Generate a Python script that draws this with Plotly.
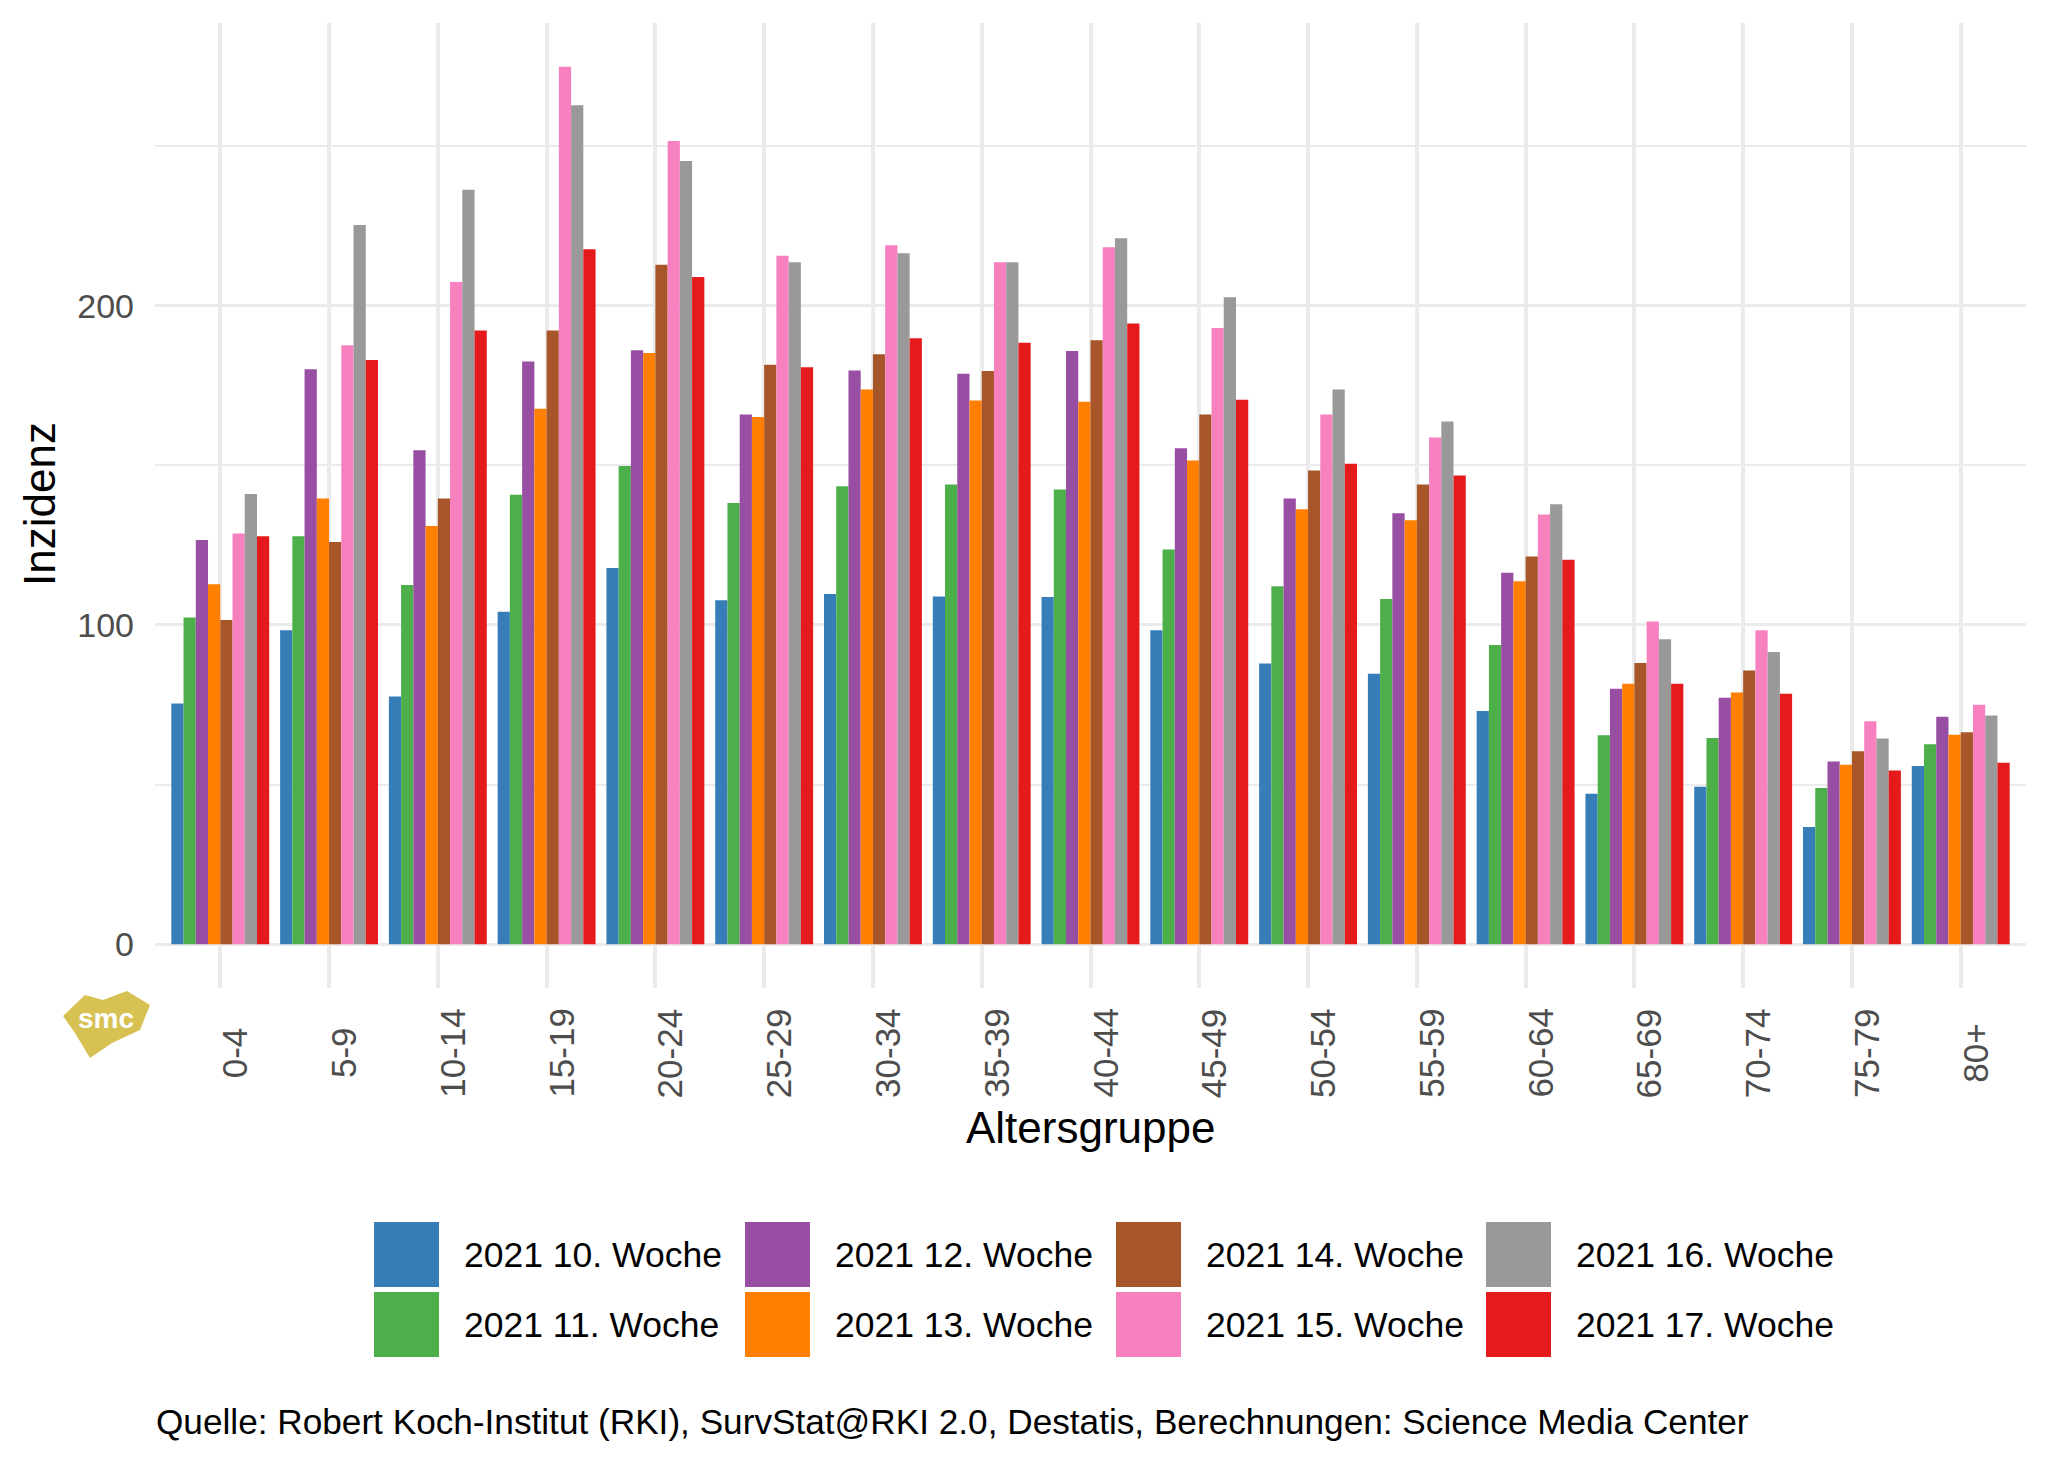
import plotly.graph_objects as go

W, H = 2048, 1462
# plot panel in pixels
PL, PR, PT, PB = 147, 2018, 15, 980
DX, DY = -8, -8  # offset applied to decoration pixel positions

age_groups = ["0-4", "5-9", "10-14", "15-19", "20-24", "25-29", "30-34", "35-39",
              "40-44", "45-49", "50-54", "55-59", "60-64", "65-69", "70-74", "75-79", "80+"]

week_names = ["2021 10. Woche", "2021 11. Woche", "2021 12. Woche", "2021 13. Woche",
              "2021 14. Woche", "2021 15. Woche", "2021 16. Woche", "2021 17. Woche"]

week10 = [75.4, 98.3, 77.6, 104.1, 117.8, 107.7, 109.7, 108.9, 108.7, 98.3, 87.9, 84.7, 73.0, 47.1, 49.3, 36.7, 55.8]
week11 = [102.3, 127.8, 112.5, 140.8, 149.8, 138.2, 143.4, 144.0, 142.4, 123.6, 112.1, 108.1, 93.7, 65.4, 64.6, 48.9, 62.6]
week12 = [126.6, 180.1, 154.7, 182.5, 186.0, 165.9, 179.7, 178.7, 185.8, 155.3, 139.6, 135.0, 116.3, 80.0, 77.2, 57.2, 71.2]
week13 = [112.7, 139.6, 131.0, 167.7, 185.2, 165.1, 173.7, 170.3, 169.9, 151.5, 136.2, 132.8, 113.7, 81.6, 78.8, 56.2, 65.6]
week14 = [101.5, 126.0, 139.6, 192.2, 212.8, 181.5, 184.8, 179.5, 189.2, 165.9, 148.4, 144.0, 121.4, 88.1, 85.7, 60.4, 66.4]
week15 = [128.6, 187.6, 207.4, 274.8, 251.6, 215.6, 218.9, 213.6, 218.3, 193.0, 165.9, 158.7, 134.6, 101.1, 98.3, 69.8, 75.0]
week16 = [141.0, 225.3, 236.3, 262.8, 245.3, 213.6, 216.4, 213.6, 221.1, 202.6, 173.7, 163.7, 137.8, 95.5, 91.5, 64.4, 71.6]
week17 = [127.8, 183.0, 192.2, 217.7, 209.0, 180.7, 189.8, 188.4, 194.4, 170.5, 150.5, 146.8, 120.4, 81.6, 78.4, 54.4, 56.8]

y_tick_vals = [0, 100, 200]
y_tick_text = ["0", "100", "200"]

colors = ["#377EB8", "#4DAF4A", "#984EA3", "#FF7F00", "#A65628", "#F781BF", "#999999", "#E41A1C"]
series = [week10, week11, week12, week13, week14, week15, week16, week17]

caption = "Quelle: Robert Koch-Institut (RKI), SurvStat@RKI 2.0, Destatis, Berechnungen: Science Media Center"

FONT = "Liberation Sans, Arial, Helvetica, sans-serif"


def px(x):
    return (x + DX - PL) / (PR - PL)


def py(y):
    return (PB - (y + DY)) / (PB - PT)


fig = go.Figure()
for name, vals, col in zip(week_names, series, colors):
    fig.add_trace(go.Bar(x=age_groups, y=vals, name=name, marker_color=col,
                         marker_line_width=0, showlegend=False))

ymax = max(max(s) for s in series)
pad = 0.05 * ymax

fig.update_layout(
    width=W, height=H,
    margin=dict(l=PL, r=W - PR, t=PT, b=H - PB),
    paper_bgcolor="white", plot_bgcolor="white",
    barmode="group", bargap=0.1, bargroupgap=0,
    font=dict(family=FONT, color="black"),
    xaxis=dict(
        type="category", range=[-0.6, len(age_groups) - 0.4],
        showgrid=True, gridcolor="#EBEBEB", gridwidth=4,
        showticklabels=False, ticks="", zeroline=False, showline=False,
    ),
    yaxis=dict(
        range=[-pad, ymax + pad],
        tickvals=y_tick_vals, ticktext=y_tick_text,
        showgrid=True, gridcolor="#EBEBEB", gridwidth=3,
        minor=dict(dtick=50, tick0=0, showgrid=True, gridcolor="#EBEBEB", gridwidth=1.5),
        tickfont=dict(size=34, color="#4D4D4D", family=FONT),
        ticks="", ticklabelstandoff=20, zeroline=False, showline=False,
    ),
)

# x tick labels (rotated, centred)
for cat in age_groups:
    fig.add_annotation(x=cat, xref="x", y=py(1053), yref="paper", text=cat,
                       textangle=-90, showarrow=False, xanchor="center", yanchor="middle",
                       xshift=14, font=dict(size=35, color="#4D4D4D", family=FONT))

# axis titles
fig.add_annotation(x=px(39), y=py(504), xref="paper", yref="paper", text="Inzidenz",
                   textangle=-90, showarrow=False, xanchor="center", yanchor="middle",
                   font=dict(size=44, color="black", family=FONT))
fig.add_annotation(x=0.5, y=py(1127), xref="paper", yref="paper", text="Altersgruppe",
                   showarrow=False, xanchor="center", yanchor="middle",
                   font=dict(size=44, color="black", family=FONT))

# legend (2 rows x 4 columns, column-major)
key_x = [374, 745, 1116, 1486]
key_y = [1222, 1292]
key_w, key_h = 65, 65
for i, (name, col) in enumerate(zip(week_names, colors)):
    c, r = i // 2, i % 2
    x0, y0 = key_x[c], key_y[r]
    fig.add_shape(type="rect", xref="paper", yref="paper",
                  x0=px(x0), x1=px(x0 + key_w), y0=py(y0), y1=py(y0 + key_h),
                  fillcolor=col, line=dict(width=0))
    fig.add_annotation(x=px(x0 + key_w + 23), y=py(y0 + key_h / 2), xref="paper", yref="paper",
                       text=name, showarrow=False, xanchor="left", yanchor="middle",
                       font=dict(size=35.5, color="black", family=FONT))

# caption
fig.add_annotation(x=px(154), y=py(1421), xref="paper", yref="paper", text=caption,
                   showarrow=False, xanchor="left", yanchor="middle",
                   font=dict(size=35.2, color="black", family=FONT))

# smc logo
logo_pts = [(63, 1016), (85, 995), (103, 1000), (127, 991), (150, 1005), (140, 1030),
            (112, 1043), (90, 1058), (75, 1033)]
path = "M " + " L ".join(f"{px(x):.5f},{py(y):.5f}" for x, y in logo_pts) + " Z"
fig.add_shape(type="path", path=path, xref="paper", yref="paper",
              fillcolor="#D6C152", line=dict(width=0))
fig.add_annotation(x=px(106), y=py(1018), xref="paper", yref="paper", text="<b>smc</b>",
                   showarrow=False, xanchor="center", yanchor="middle",
                   font=dict(size=28, color="white", family=FONT))

fig.write_html("out.html")
